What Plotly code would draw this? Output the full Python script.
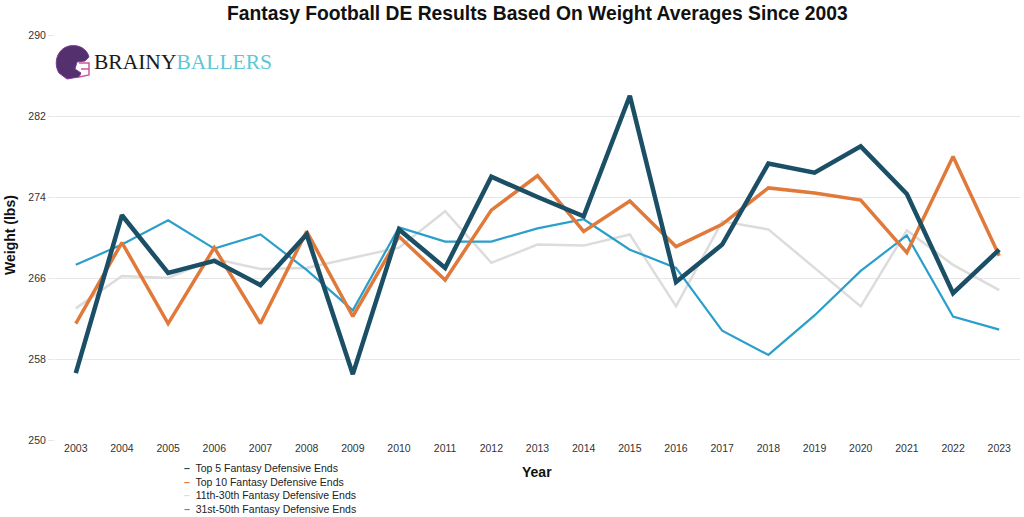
import plotly.graph_objects as go

years = list(range(2003, 2024))
top5 = [256.6, 272.2, 266.5, 267.7, 265.3, 270.3, 256.5, 270.8, 267.0, 276.0, 274.0, 272.1, 284.0, 265.6, 269.3, 277.3, 276.4, 279.0, 274.3, 264.5, 268.8]
top10 = [261.5, 269.5, 261.5, 269.0, 261.5, 270.6, 262.2, 270.1, 265.8, 272.7, 276.1, 270.6, 273.6, 269.1, 271.3, 274.9, 274.4, 273.7, 268.5, 278.0, 268.2]
r11_30 = [263.0, 266.2, 266.0, 267.9, 266.9, 267.0, 268.0, 269.0, 272.6, 267.5, 269.3, 269.2, 270.3, 263.2, 271.6, 270.8, 267.0, 263.2, 270.7, 267.3, 264.8]
r31_50 = [267.3, 269.3, 271.7, 268.9, 270.3, 266.8, 262.8, 271.0, 269.6, 269.6, 270.9, 271.8, 268.8, 267.0, 260.8, 258.4, 262.3, 266.7, 270.2, 262.2, 260.9]

names = ["Top 5 Fantasy Defensive Ends", "Top 10 Fantasy Defensive Ends",
         "11th-30th Fantasy Defensive Ends", "31st-50th Fantasy Defensive Ends"]
colors = ["#1a4f66", "#e0793a", "#dcdcdc", "#2b9fcb"]
widths = [4.5, 3.5, 2.5, 2.2]
series = [top5, top10, r11_30, r31_50]

W, H = 1024, 517
L, R, T, B = 55, 4, 35, 77
PW, PH = W - L - R, H - T - B


def px(sx):
    return (sx - L) / PW


def py(sy):
    return 1 - (sy - T) / PH


fig = go.Figure()
order = [2, 3, 1, 0]
for i in order:
    fig.add_trace(go.Scatter(x=years, y=series[i], mode="lines", name=names[i],
                             line=dict(color=colors[i], width=widths[i]),
                             showlegend=False))

fig.update_layout(
    width=W, height=H,
    paper_bgcolor="white", plot_bgcolor="white",
    margin=dict(l=L, r=R, t=T, b=B, autoexpand=False),
    font=dict(family="Liberation Sans, Arial, sans-serif", size=11, color="#333"),
    showlegend=False,
)
fig.update_xaxes(tickmode="array", tickvals=years, ticktext=[str(y) for y in years],
                 range=[2002.55, 2023.45], showgrid=False, zeroline=False,
                 showline=False, automargin=False, tickfont=dict(size=10.5, color="#333"))
fig.update_yaxes(range=[250, 290], tickvals=[250, 258, 266, 274, 282, 290],
                 showgrid=True, gridcolor="#e6e6e6", gridwidth=1, zeroline=False,
                 ticks="outside", ticklen=6, tickcolor="#e6e6e6", automargin=False,
                 tickfont=dict(size=10.5, color="#333"))

# Titles
fig.add_annotation(xref="paper", yref="paper", x=0.5, y=py(13), xanchor="center", yanchor="middle",
                   showarrow=False,
                   text="<b>Fantasy Football DE Results Based On Weight Averages Since 2003</b>",
                   font=dict(size=19.3, color="#111"))
fig.add_annotation(xref="paper", yref="paper", x=px(537), y=py(472), xanchor="center", yanchor="middle",
                   showarrow=False, text="<b>Year</b>", font=dict(size=14, color="#111"))
fig.add_annotation(xref="paper", yref="paper", x=px(10), y=py(235), xanchor="center", yanchor="middle",
                   showarrow=False, textangle=-90, text="<b>Weight (lbs)</b>",
                   font=dict(size=14, color="#111"))

# Legend drawn as a text block
leg_lines = []
for n, c in zip(names, colors):
    leg_lines.append(f"<span style='color:{c}'><b>–</b></span>  {n}")
fig.add_annotation(xref="paper", yref="paper", x=px(182), y=py(460),
                   xanchor="left", yanchor="top", align="left", showarrow=False,
                   text="<br>".join(leg_lines), font=dict(size=10.5, color="#222"))

# Logo: helmet + wordmark
hx, hy = px(55), py(79)
fig.add_shape(type="path", xref="paper", yref="paper", xsizemode="pixel", ysizemode="pixel",
              xanchor=hx, yanchor=hy,
              path="M 4 6 C -2 16, 2 30, 14 33 C 24 35, 32 30, 34 22 L 30 18 L 22 17 L 20 10 L 26 6 L 24 2 L 12 0 Z",
              fillcolor="#55306f", line=dict(color="#7a3f93", width=1))
fig.add_shape(type="path", xref="paper", yref="paper", xsizemode="pixel", ysizemode="pixel",
              xanchor=hx, yanchor=hy,
              path="M 24 16 L 34 16 L 34 4 L 24 2 M 26 10 L 34 10",
              line=dict(color="#d0579a", width=1.5))
fig.add_annotation(xref="paper", yref="paper", x=px(92), y=py(62),
                   xanchor="left", yanchor="middle", showarrow=False,
                   text="<span style='color:#1a1a1a'>BRAINY</span><span style='color:#5cc8d6'>BALLERS</span>",
                   font=dict(size=21.5, family="Liberation Serif, serif"))

fig.write_html("out.html", config={"displayModeBar": False},
               post_script="document.body.style.margin='0';document.body.style.overflow='hidden';")
